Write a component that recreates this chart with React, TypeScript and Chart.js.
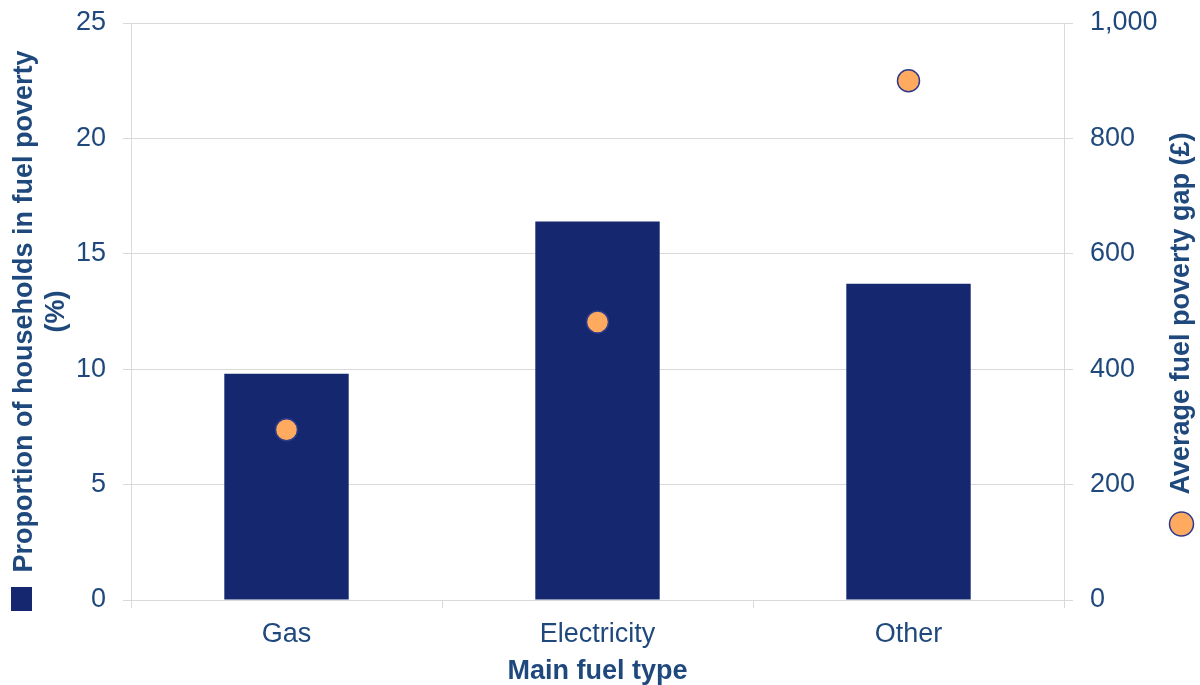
import React, { useEffect, useRef } from "react";
import { Chart, registerables } from "chart.js";

Chart.register(...registerables);

const categories = ["Gas", "Electricity", "Other"];
const proportionInFuelPoverty = [9.8, 16.4, 13.7];
const averageGap = [295, 482, 900];
const leftTicks = { min: 0, max: 25, step: 5 };
const rightTicks = { min: 0, max: 1000, step: 200 };

const leftTitle = ["Proportion of households in fuel poverty", "(%)"];
const rightTitle = "Average fuel poverty gap (£)";
const xTitle = "Main fuel type";

const NAVY = "#15286F";
const ORANGE = "#FFAA5F";
const DOT_BORDER = "#2E3B8C";
const TEXT = "#1F497D";
const GRID = "#D9D9D9";
const FONT = "'Liberation Sans', Arial, sans-serif";

const legendPlugin = {
  id: "customLegends",
  afterDraw(chart: any) {
    const ctx = chart.ctx;
    const area = chart.chartArea;
    ctx.save();
    // left square marker
    ctx.fillStyle = NAVY;
    ctx.fillRect(11, 587, 21, 24);
    // right title, rotated reading bottom-to-top
    const cy = (area.top + area.bottom) / 2;
    ctx.translate(1181.5, cy + 2);
    ctx.rotate(-Math.PI / 2);
    ctx.fillStyle = TEXT;
    ctx.font = `bold 27px ${FONT}`;
    ctx.textAlign = "center";
    ctx.textBaseline = "middle";
    ctx.fillText(rightTitle, 0, 0);
    ctx.restore();
    // right circle marker
    ctx.save();
    ctx.beginPath();
    ctx.arc(1181.5, 524, 12, 0, Math.PI * 2);
    ctx.fillStyle = ORANGE;
    ctx.fill();
    ctx.lineWidth = 1.5;
    ctx.strokeStyle = DOT_BORDER;
    ctx.stroke();
    ctx.restore();
  },
};

export default function App() {
  const ref = useRef<HTMLCanvasElement | null>(null);

  useEffect(() => {
    document.body.style.margin = "0";
    if (!ref.current) return;
    const chart = new Chart(ref.current, {
      type: "bar",
      data: {
        labels: categories,
        datasets: [
          {
            type: "line",
            label: rightTitle,
            data: averageGap,
            yAxisID: "y1",
            showLine: false,
            pointRadius: 11,
            pointHoverRadius: 11,
            pointBackgroundColor: ORANGE,
            pointBorderColor: DOT_BORDER,
            pointBorderWidth: 1.5,
            backgroundColor: ORANGE,
            borderColor: DOT_BORDER,
            order: 0,
          } as any,
          {
            type: "bar",
            label: leftTitle.join(" "),
            data: proportionInFuelPoverty,
            yAxisID: "y",
            backgroundColor: NAVY,
            borderWidth: 0,
            categoryPercentage: 1,
            barPercentage: 0.4,
            order: 1,
          },
        ],
      },
      options: {
        animation: false,
        responsive: false,
        devicePixelRatio: 1,
        layout: { padding: { left: 0, right: 0, top: 23, bottom: 0 } },
        plugins: {
          legend: { display: false },
          tooltip: { enabled: false },
        },
        scales: {
          x: {
            offset: true,
            grid: {
              offset: true,
              drawOnChartArea: false,
              color: GRID,
              tickLength: 8,
            },
            border: { color: GRID },
            ticks: {
              color: TEXT,
              font: { family: FONT, size: 27 },
              padding: 10,
              maxRotation: 0,
            },
            title: {
              display: true,
              text: xTitle,
              color: TEXT,
              font: { family: FONT, size: 27, weight: "bold", lineHeight: 1 },
              padding: { top: 0, bottom: 0 },
            },
            afterFit(scale: any) {
              scale.height = 85;
              scale.paddingLeft = 0;
              scale.paddingRight = 0;
            },
          },
          y: {
            position: "left",
            min: leftTicks.min,
            max: leftTicks.max,
            ticks: {
              stepSize: leftTicks.step,
              color: TEXT,
              font: { family: FONT, size: 27 },
              padding: 17,
            },
            grid: { color: GRID, tickLength: 8 },
            border: { color: GRID },
            title: {
              display: true,
              text: leftTitle,
              color: TEXT,
              font: { family: FONT, size: 27, weight: "bold", lineHeight: 1.2 },
              padding: { top: 8, bottom: 0 },
            },
            afterFit(scale: any) {
              scale.width = 131;
              scale.paddingTop = 0;
              scale.paddingBottom = 0;
            },
          },
          y1: {
            position: "right",
            min: rightTicks.min,
            max: rightTicks.max,
            ticks: {
              stepSize: rightTicks.step,
              color: TEXT,
              font: { family: FONT, size: 27 },
              padding: 17,
              callback: (v: any) => Number(v).toLocaleString("en-GB"),
            },
            grid: { drawOnChartArea: false, color: GRID, tickLength: 9 },
            border: { color: GRID },
            afterFit(scale: any) {
              scale.width = 136;
              scale.paddingTop = 0;
              scale.paddingBottom = 0;
            },
          },
        },
      },
      plugins: [legendPlugin],
    });
    return () => chart.destroy();
  }, []);

  return (
    <div style={{ width: 1200, height: 685 }}>
      <canvas ref={ref} width={1200} height={685} />
    </div>
  );
}
